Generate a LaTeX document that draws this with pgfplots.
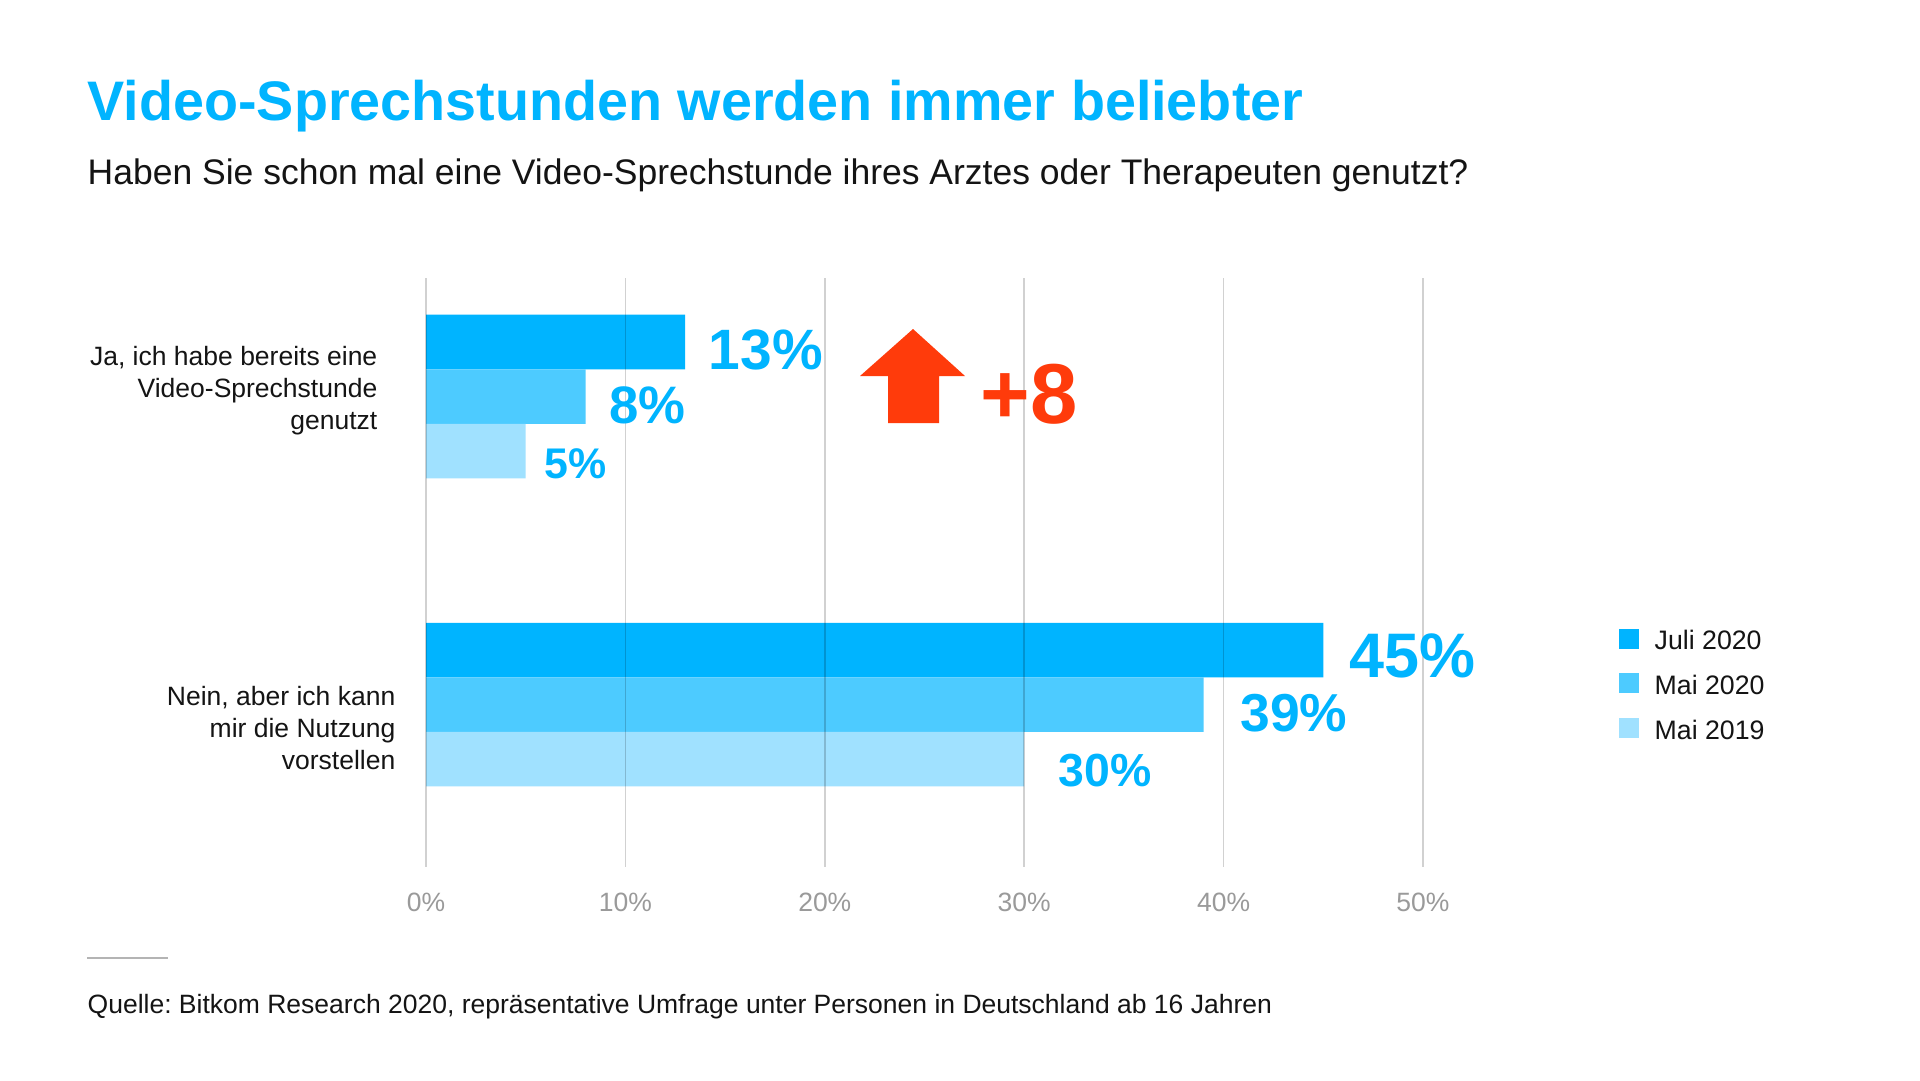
\documentclass[border=0pt]{standalone}
\usepackage{fontspec}
\setmainfont{Liberation Sans}
\usepackage{pgfplots}
\usepackage{pgfplotstable}
\pgfplotsset{compat=1.18}
\frenchspacing

\definecolor{cJuli}{HTML}{00B4FF}
\definecolor{cMaiA}{HTML}{4DCBFF}
\definecolor{cMaiB}{HTML}{A0E1FF}
\definecolor{cRed}{HTML}{FF3B0B}
\definecolor{cTick}{HTML}{9A9A9A}
\definecolor{cText}{HTML}{141414}
\definecolor{cRule}{HTML}{B4B4B4}

% y: position of the bar (category 0 = Ja, 1 = Nein), x: value, fs: label size (pt), gap: label gap (px)
\pgfplotstableread{
y x fs gap
-0.177 13 16.2 23
0.823 45 17.9 26
}\juli
\pgfplotstableread{
y x fs gap
0 8 15.0 23
1 39 15.2 36
}\maizwanzig
\pgfplotstableread{
y x fs gap
0.177 5 12.2 18
1.177 30 13.2 34
}\maineunzehn

\begin{document}
\frenchspacing
\begin{tikzpicture}[x=0.1mm,y=-0.1mm]
\fill[white] (0,0) rectangle (1920,1080);
\useasboundingbox (0,0) rectangle (1920,1080);
\coordinate (nw) at (426,278);
\begin{axis}[
  at={(nw)}, anchor=north west,
  scale only axis, width=99.7mm, height=58.9mm,
  xbar, bar width=0.177, bar shift=0pt,
  xmin=0, xmax=50, ymin=-0.3847, ymax=1.5276,
  y dir=reverse,
  axis line style={draw=none},
  ytick=\empty,
  xtick={0,10,20,30,40,50},
  xticklabels={0\%,10\%,20\%,30\%,40\%,50\%},
  major tick length=0pt,
  xmajorgrids,
  grid style={draw=black, opacity=0.18, line width=0.15mm},
  axis on top,
  xticklabel style={anchor=base, yshift=-4.4mm, font=\fontsize{7.54pt}{9pt}\selectfont, text=cTick, inner sep=0pt},
  clip=false,
  point meta=explicit symbolic,
  nodes near coords={\pgfplotspointmeta\%},
  visualization depends on={\thisrow{fs} \as \fs},
  visualization depends on={\thisrow{gap} \as \gap},
  every node near coord/.append style={anchor=base west, inner sep=0pt, xshift={\gap*0.1mm}, yshift=-2.725mm, font=\fontsize{\fs pt}{\fs pt}\bfseries\selectfont, text=cJuli},
]
\addplot[fill=cJuli, draw=none] table[x=x,y=y,meta=x] {\juli};
\addplot[fill=cMaiA, draw=none] table[x=x,y=y,meta=x] {\maizwanzig};
\addplot[fill=cMaiB, draw=none] table[x=x,y=y,meta=x] {\maineunzehn};
\end{axis}

% title and subtitle
\node[anchor=base west, inner sep=0pt, text=cJuli, font=\fontsize{15.85pt}{18pt}\bfseries\selectfont] at (87,120) {Video-Sprechstunden werden immer beliebter};
\node[anchor=base west, inner sep=0pt, text=cText, font=\fontsize{10.1pt}{12pt}\selectfont] at (87,184) {Haben Sie schon mal eine Video-Sprechstunde ihres Arztes oder Therapeuten genutzt?};

% category labels
\begin{scope}[every node/.style={anchor=base east, inner sep=0pt, text=cText, font=\fontsize{7.54pt}{9pt}\selectfont}]
\node at (378,365) {Ja, ich habe bereits eine};
\node at (378,397) {Video-Sprechstunde};
\node at (378,429) {genutzt};
\node at (396,705) {Nein, aber ich kann};
\node at (396,737) {mir die Nutzung};
\node at (396,769) {vorstellen};
\end{scope}

% legend
\fill[cJuli] (1619,629) rectangle (1639,649);
\fill[cMaiA] (1619,673) rectangle (1639,693);
\fill[cMaiB] (1619,718) rectangle (1639,738);
\begin{scope}[every node/.style={anchor=base west, inner sep=0pt, text=cText, font=\fontsize{7.6pt}{9pt}\selectfont}]
\node at (1654,649) {Juli 2020};
\node at (1654,694) {Mai 2020};
\node at (1654,739) {Mai 2019};
\end{scope}

% arrow and +8
\fill[cRed] (913,329) -- (965,376) -- (939,376) -- (939,423) -- (888,423) -- (888,376) -- (860,376) -- cycle;
\node[anchor=base west, inner sep=0pt, text=cRed, font=\fontsize{24.2pt}{28pt}\bfseries\selectfont] at (980,423) {+8};

% footer
\draw[cRule, line width=0.2mm] (87,958) -- (168,958);
\node[anchor=base west, inner sep=0pt, text=cText, font=\fontsize{7.54pt}{9pt}\selectfont] at (87,1013) {Quelle: Bitkom Research 2020, repräsentative Umfrage unter Personen in Deutschland ab 16 Jahren};
\end{tikzpicture}
\end{document}
